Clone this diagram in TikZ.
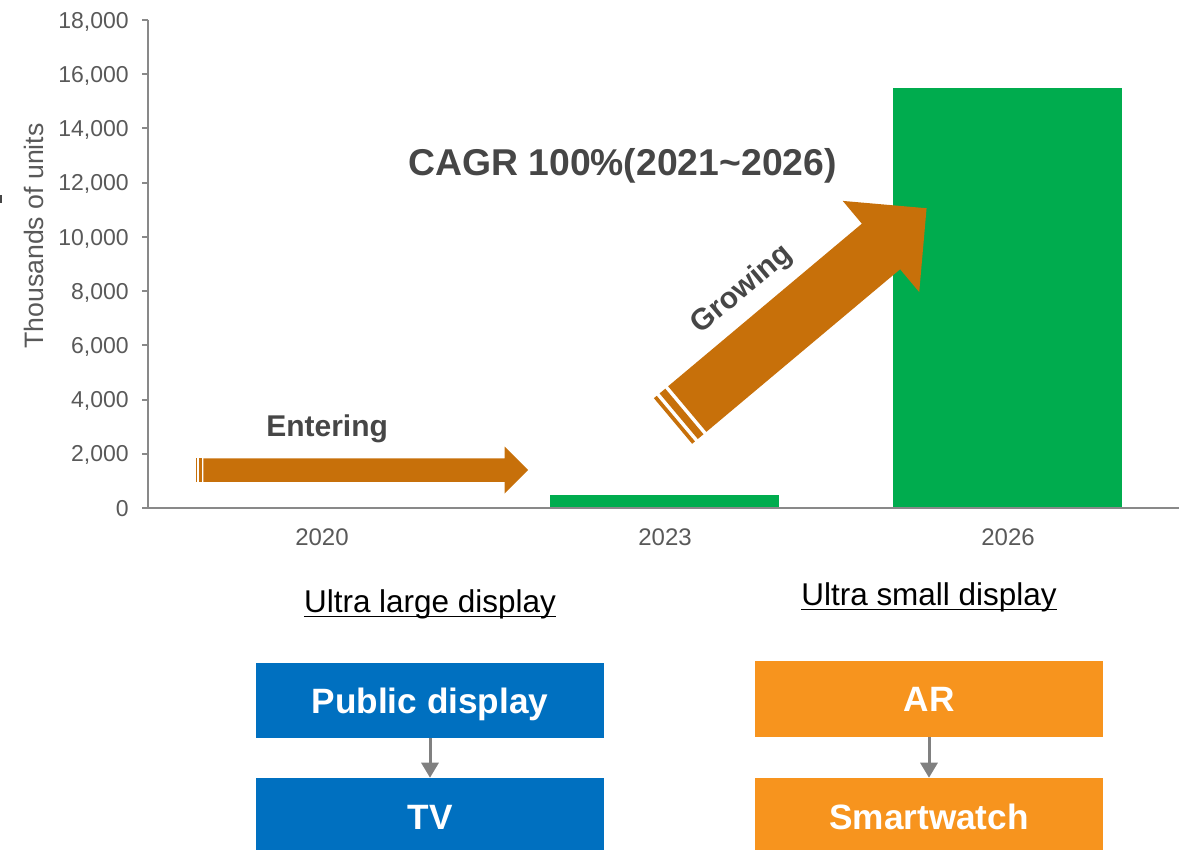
\documentclass[tikz,border=0pt]{standalone}
\usepackage{fontspec}
\setmainfont{Liberation Sans}
\usetikzlibrary{arrows.meta}

\definecolor{axisgray}{RGB}{137,137,137}
\definecolor{labelgray}{RGB}{89,89,89}
\definecolor{headgray}{RGB}{70,70,70}
\definecolor{bargreen}{RGB}{0,172,78}
\definecolor{arrowbrown}{RGB}{199,112,10}
\definecolor{boxblue}{RGB}{0,112,192}
\definecolor{boxorange}{RGB}{247,148,30}
\definecolor{linkgray}{RGB}{128,128,128}

% Block arrow with two stripes at the tail.
% #1,#2 tail point, #3 angle, #4 total length, #5 head width (all in px units)
\newcommand\stripedarrow[5]{%
  \begin{scope}[shift={(#1,#2)}, rotate=#3]
    \pgfmathsetmacro\hw{#5/2}
    \pgfmathsetmacro\bw{#5/4}
    \pgfmathsetmacro\sa{#5/32}
    \pgfmathsetmacro\sb{#5/16}
    \pgfmathsetmacro\sc{#5/8}
    \pgfmathsetmacro\sd{5*#5/32}
    \pgfmathsetmacro\hb{#4-#5/2}
    \fill[arrowbrown] (0,-\bw) rectangle (\sa,\bw);
    \fill[arrowbrown] (\sb,-\bw) rectangle (\sc,\bw);
    \fill[arrowbrown] (\sd,-\bw) -- (\hb,-\bw) -- (\hb,-\hw) -- (#4,0)
      -- (\hb,\hw) -- (\hb,\bw) -- (\sd,\bw) -- cycle;
  \end{scope}%
}

\begin{document}
\begin{tikzpicture}[x=0.75pt, y=-0.75pt,
  axisline/.style={draw=axisgray, line width=1.5pt},
  ticklab/.style={text=labelgray, font=\fontsize{17.25}{20}\selectfont, inner sep=0pt},
  yearlab/.style={text=labelgray, font=\fontsize{18}{21}\selectfont, inner sep=0pt},
  headline/.style={text=headgray, font=\bfseries\fontsize{28}{32}\selectfont, inner sep=0pt},
  arrowlab/.style={text=headgray, font=\bfseries\fontsize{22.5}{26}\selectfont, inner sep=0pt},
  grouplab/.style={text=black, font=\fontsize{23.6}{28}\selectfont, inner sep=0pt},
  appbox/.style={rectangle, minimum width=261pt, text=white,
    font=\bfseries\fontsize{26.4}{30}\selectfont, text height=18.9pt, text depth=0pt, inner sep=0pt},
  link/.style={draw=linkgray, line width=2.25pt, -{Triangle[length=11.25pt, width=12.75pt]}}
]
\useasboundingbox (0,0) rectangle (1184,849);

% bars
\fill[bargreen] (550,495) rectangle (779,508);
\fill[bargreen] (893,88) rectangle (1122,508);

% axes
\draw[axisline] (148,20) -- (148,508) -- (1179,508);
\foreach \k/\lab in {0/0, 1/{2,000}, 2/{4,000}, 3/{6,000}, 4/{8,000}, 5/{10,000},
                     6/{12,000}, 7/{14,000}, 8/{16,000}, 9/{18,000}} {
  \pgfmathsetmacro\ty{508-54.222*\k}
  \draw[axisline] (142,\ty) -- (148,\ty);
  \node[ticklab, anchor=base east] at (129,\ty+8.2) {\lab};
}
\node[ticklab, font=\fontsize{20}{24}\selectfont, rotate=90, anchor=base] (ytitle) at (43,236) {Thousands of units};
\fill[headgray] (0,195) rectangle (2,203);

\node[yearlab, anchor=base] (y2020) at (322,545) {2020};
\node[yearlab, anchor=base] (y2023) at (665,545) {2023};
\node[yearlab, anchor=base] (y2026) at (1008,545) {2026};

% growth arrows
\stripedarrow{196}{470}{0}{332}{47}
\stripedarrow{673}{421}{40}{331}{119}

\node[headline, anchor=base west] (cagr) at (408,175) {CAGR 100\%(2021\textasciitilde 2026)};
\node[arrowlab, anchor=base west] (enter) at (266,436) {Entering};
\node[arrowlab, rotate=40] (grow) at (742,290) {Growing};

% display groups
\node[grouplab, anchor=base] (large) at (430,612) {Ultra large display};
\draw[black, line width=1.1pt] ([yshift=-3.4pt]large.base west) -- ([yshift=-3.4pt]large.base east);
\node[grouplab, anchor=base] (small) at (929,605) {Ultra small display};
\draw[black, line width=1.1pt] ([yshift=-3.4pt]small.base west) -- ([yshift=-3.4pt]small.base east);

\node[appbox, fill=boxblue, minimum height=56.25pt] (pub) at (430,700.5) {Public display};
\node[appbox, fill=boxblue, minimum height=57.75pt] (tv) at (430,816.5) {TV};
\node[appbox, fill=boxorange, minimum height=57pt] (ar) at (929,699) {AR};
\node[appbox, fill=boxorange, minimum height=57.75pt] (watch) at (929,816.5) {Smartwatch};

\draw[link] (pub.south) -- (tv.north);
\draw[link] (ar.south) -- (watch.north);
\end{tikzpicture}
\end{document}
